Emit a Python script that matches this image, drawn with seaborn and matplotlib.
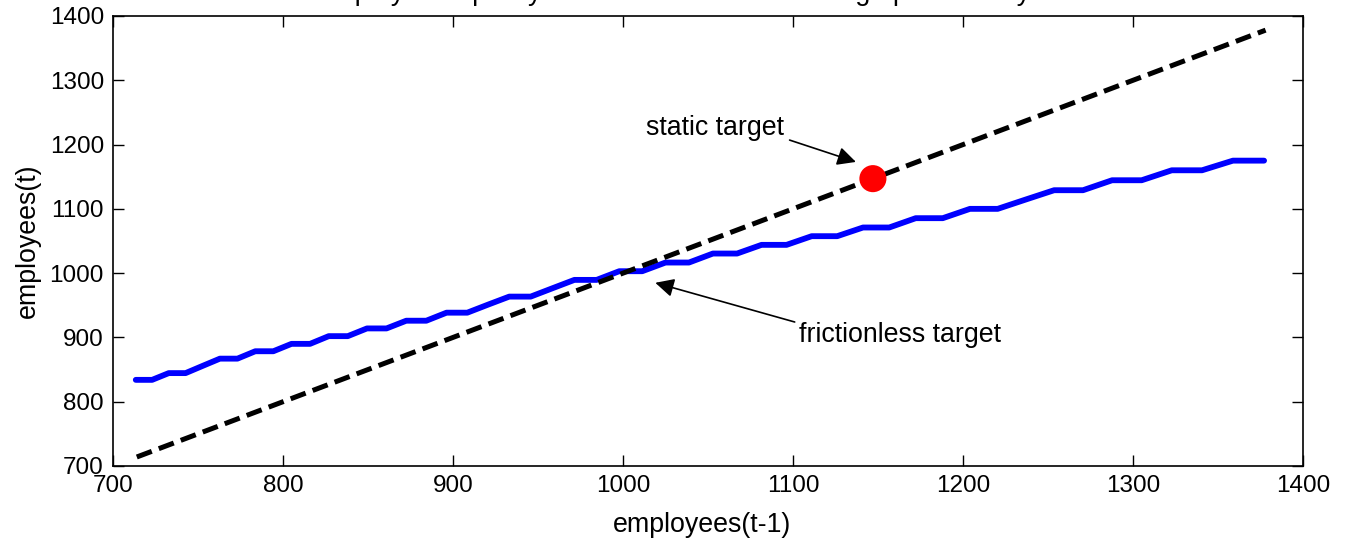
import matplotlib
matplotlib.use("Agg")
import matplotlib.pyplot as plt
import seaborn as sns
import pandas as pd

# employment grid (t-1) and employment policy (t)
emp_prev = [713.4, 723.0, 732.8, 742.7, 752.7, 762.9, 773.2, 783.7, 794.3, 805.0,
            815.9, 826.9, 838.1, 849.4, 860.9, 872.5, 884.3, 896.2, 908.4, 920.6,
            933.1, 945.7, 958.5, 971.4, 984.5, 997.8, 1011.3, 1025.0, 1038.8, 1052.9,
            1067.1, 1081.5, 1096.2, 1111.0, 1126.0, 1141.2, 1156.6, 1172.2, 1188.1, 1204.1,
            1220.4, 1236.9, 1253.6, 1270.6, 1287.7, 1305.1, 1322.8, 1340.6, 1358.8, 1377.1]
emp_policy = [834.0, 834.0, 844.5, 844.5, 855.7, 867.0, 867.0, 878.5, 878.5, 890.0,
              890.0, 902.0, 902.0, 914.0, 914.0, 926.0, 926.0, 938.5, 938.5, 951.0,
              963.5, 963.5, 976.5, 989.5, 989.5, 1003.0, 1003.0, 1016.5, 1016.5, 1030.5,
              1030.5, 1044.0, 1044.0, 1057.5, 1057.5, 1071.0, 1071.0, 1085.5, 1085.5, 1100.0,
              1100.0, 1114.5, 1129.0, 1129.0, 1144.5, 1144.5, 1160.0, 1160.0, 1175.0, 1175.0]

# frictionless target (45 degree line) end points
diag_x = [714.0, 1378.0]
diag_y = [714.0, 1378.0]

# static target point
static_x = [1147.0]
static_y = [1147.0]

x_ticks = [700, 800, 900, 1000, 1100, 1200, 1300, 1400]
y_ticks = [700, 800, 900, 1000, 1100, 1200, 1300, 1400]

title_text = "Employment policy for a firm in the state of high productivity"

sns.set_style("ticks")
plt.rcParams["font.family"] = ["Liberation Sans", "DejaVu Sans"]
plt.rcParams["text.color"] = "black"
plt.rcParams["axes.labelcolor"] = "black"

W, H = 1348, 546
fig = plt.figure(figsize=(W / 100, H / 100), dpi=100)
ax = fig.add_axes([113 / W, 1 - 466 / H, 1190 / W, 450 / H])

df = pd.DataFrame({"prev": emp_prev, "now": emp_policy})
sns.lineplot(data=df, x="prev", y="now", ax=ax, color=(0, 0, 1), linewidth=4.2,
             sort=False, estimator=None)
dd = pd.DataFrame({"x": diag_x, "y": diag_y})
sns.lineplot(data=dd, x="x", y="y", ax=ax, color="black", linewidth=3.6,
             sort=False, estimator=None)
ax.lines[-1].set_dashes([3.2, 1.5])
sns.scatterplot(x=static_x, y=static_y, ax=ax, s=380, color=(1, 0, 0),
                edgecolor="none", zorder=5)

ax.set_xlim(700, 1400)
ax.set_ylim(700, 1400)
ax.set_xticks(x_ticks)
ax.set_yticks(y_ticks)
ax.tick_params(direction="in", top=True, right=True, length=8, width=1.0,
               labelsize=17.5, colors="black", pad=6.5)
for s in ax.spines.values():
    s.set_linewidth(1.2)
    s.set_color("black")

LAB = 19.25
ax.set_xlabel("employees(t-1)", fontsize=LAB, color="black")
ax.set_ylabel("employees(t)", fontsize=LAB, color="black")
ax.xaxis.set_label_coords(0.495, -(525 - 466) / 450)
ax.xaxis.label.set_va("center")
ax.yaxis.set_label_coords((28 - 113) / 1190, 0.5)
ax.yaxis.label.set_va("center")

# annotations
ax.text(1054, 1226, "static target", fontsize=LAB, ha="center", va="center",
        color="black")
ax.annotate("", xy=(1137, 1173), xytext=(1098, 1207),
            arrowprops=dict(arrowstyle="-|>", color="black", lw=1.2,
                            mutation_scale=28, shrinkA=0, shrinkB=0))
ax.text(1163, 904, "frictionless target", fontsize=LAB, ha="center", va="center",
        color="black")
ax.annotate("", xy=(1019, 985), xytext=(1101, 924),
            arrowprops=dict(arrowstyle="-|>", color="black", lw=1.2,
                            mutation_scale=28, shrinkA=0, shrinkB=0))

# title (mostly cut off at the top edge as in the reference)
fig.text(672 / W, 1.0, title_text, fontsize=19.5, ha="center", va="baseline",
         color="black")

fig.savefig("out.png", dpi=100)
